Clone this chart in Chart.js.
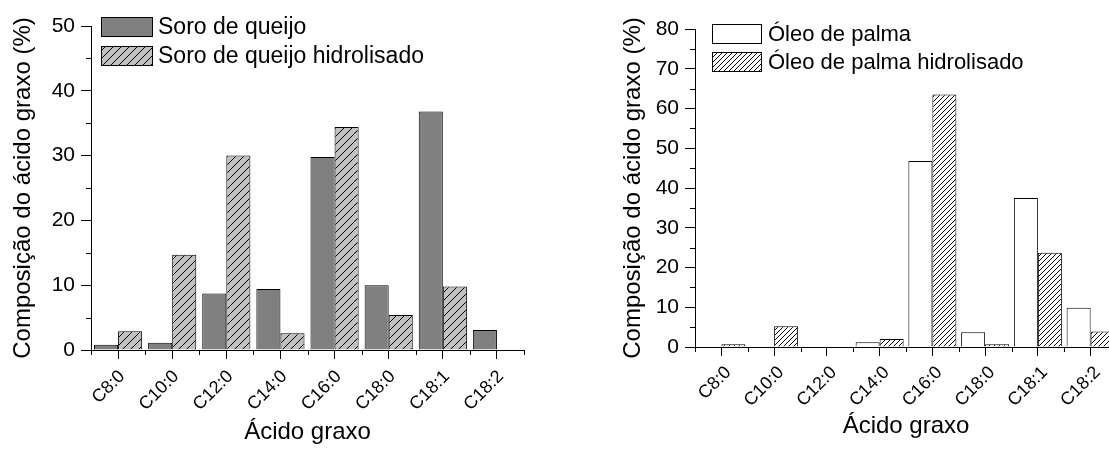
<!DOCTYPE html>
<html>
<head>
<meta charset="utf-8">
<script src="https://cdn.jsdelivr.net/npm/chart.js@4.4.1/dist/chart.umd.min.js"></script>
<style>
  html, body { margin: 0; padding: 0; background: #fff; overflow: hidden; width: 1109px; height: 454px; }
  #wrapLeft { position: absolute; left: 0; top: 0; width: 545px; height: 454px; }
  #wrapRight { position: absolute; left: 600px; top: 0; width: 540px; height: 454px; }
</style>
</head>
<body>
<div id="wrapLeft"><canvas id="chartLeft" width="545" height="454"></canvas></div>
<div id="wrapRight"><canvas id="chartRight" width="540" height="454"></canvas></div>
<script>
// data
const acids = ['C8:0', 'C10:0', 'C12:0', 'C14:0', 'C16:0', 'C18:0', 'C18:1', 'C18:2'];
const soroQueijo = [0.8, 1.1, 8.7, 9.4, 29.8, 10.0, 36.8, 3.1];
const soroQueijoHidro = [2.9, 14.7, 30.0, 2.6, 34.4, 5.4, 9.8, null];
const oleoPalma = [0, 0, 0.2, 1.2, 46.8, 3.7, 37.5, 9.9];
const oleoPalmaHidro = [0.7, 5.2, 0, 2.0, 63.5, 0.7, 23.7, 3.9];
const yMaxLeft = 50;
const yMaxRight = 80;
const yStep = 10;

const FONT = '"Liberation Sans", Arial, sans-serif';

function hatch(bg, s) {
    const c = document.createElement('canvas');
    c.width = s;
    c.height = s;
    const g = c.getContext('2d');
    g.fillStyle = bg;
    g.fillRect(0, 0, s, s);
    g.strokeStyle = '#000';
    g.lineWidth = 1;
    g.beginPath();
    g.moveTo(0, s); g.lineTo(s, 0);
    g.moveTo(-1, 1); g.lineTo(1, -1);
    g.moveTo(s - 1, s + 1); g.lineTo(s + 1, s - 1);
    g.stroke();
    return g.createPattern(c, 'repeat');
}

// short ticks: y at the half steps, x at the category edges
const minorTicks = {
    id: 'minorTicks',
    afterDraw(chart, args, opts) {
        const ctx = chart.ctx;
        const x = chart.scales.x, y = chart.scales.y;
        ctx.save();
        ctx.strokeStyle = '#000';
        ctx.lineWidth = 1;
        ctx.beginPath();
        for (let v = yStep / 2; v < y.max; v += yStep) {
            const py = Math.round(y.getPixelForValue(v)) + 0.5;
            ctx.moveTo(x.left - opts.len, py);
            ctx.lineTo(x.left, py);
        }
        for (let i = 0; i <= acids.length; i++) {
            const px = Math.round(x.getPixelForValue(i - 0.5)) + 0.5;
            ctx.moveTo(px, y.bottom);
            ctx.lineTo(px, y.bottom + opts.len);
        }
        ctx.stroke();
        ctx.restore();
    }
};

// legend boxes as in the original (box + label, stacked)
const boxLegend = {
    id: 'boxLegend',
    afterDraw(chart, args, opts) {
        const ctx = chart.ctx;
        const a = chart.chartArea;
        ctx.save();
        ctx.font = opts.fontSize + 'px ' + FONT;
        ctx.textBaseline = 'middle';
        chart.data.datasets.forEach((ds, i) => {
            const bx = Math.round(a.left + opts.x);
            const by = Math.round(a.top + opts.y + i * opts.rowGap);
            ctx.fillStyle = ds.backgroundColor;
            ctx.fillRect(bx, by, opts.boxW, opts.boxH);
            ctx.strokeStyle = '#000';
            ctx.lineWidth = 1;
            ctx.strokeRect(bx + 0.5, by + 0.5, opts.boxW, opts.boxH);
            ctx.fillStyle = '#000';
            ctx.fillText(ds.label, bx + opts.boxW + opts.gap, by + opts.boxH / 2 + 1);
        });
        ctx.restore();
    }
};

function makeChart(id, datasets, yMax, lay) {
    new Chart(document.getElementById(id), {
        type: 'bar',
        data: { labels: acids, datasets: datasets },
        options: {
            responsive: false,
            animation: false,
            layout: { padding: { top: lay.top, right: lay.right, left: 0, bottom: 0 } },
            datasets: { bar: { barPercentage: 1, categoryPercentage: lay.catPct } },
            plugins: {
                legend: { display: false },
                tooltip: { enabled: false },
                minorTicks: { len: 5 },
                boxLegend: lay.legend
            },
            scales: {
                x: {
                    offset: true,
                    grid: { drawOnChartArea: false, offset: false, tickLength: 9, color: '#000' },
                    border: { display: true, color: '#000', width: 1 },
                    ticks: { color: '#000', font: { size: lay.xTickSize, family: FONT }, minRotation: 45, maxRotation: 45, padding: lay.xTickPad, labelOffset: lay.xTickShift, autoSkip: false },
                    title: { display: true, text: 'Ácido graxo', color: '#000', font: { size: 24, family: FONT }, padding: { top: 0, bottom: lay.xTitlePad } },
                    afterFit: s => { s.height = lay.xHeight; }
                },
                y: {
                    min: 0,
                    max: yMax,
                    grid: { drawOnChartArea: false, tickLength: 10, color: '#000' },
                    border: { display: true, color: '#000', width: 1 },
                    ticks: { stepSize: yStep, color: '#000', font: { size: 21, family: FONT }, padding: 6 },
                    title: { display: true, text: 'Composição do ácido graxo (%)', color: '#000', font: { size: 24, family: FONT }, padding: { top: lay.yTitlePad, bottom: 0 } },
                    afterFit: s => { s.width = lay.yWidth; }
                }
            }
        },
        plugins: [minorTicks, boxLegend]
    });
}

makeChart('chartLeft', [
    { label: 'Soro de queijo', data: soroQueijo, backgroundColor: '#808080', borderColor: '#000', borderWidth: 1 },
    { label: 'Soro de queijo hidrolisado', data: soroQueijoHidro, backgroundColor: hatch('#c0c0c0', 8), borderColor: '#000', borderWidth: 1 }
], yMaxLeft, {
    top: 26, right: 21, yWidth: 91, xHeight: 104, catPct: 0.89,
    xTickSize: 18, xTickPad: 7, xTickShift: 4, xTitlePad: 7, yTitlePad: 9,
    legend: { x: 10, y: -9, boxW: 51, boxH: 19, rowGap: 29, gap: 6, fontSize: 23 }
});

makeChart('chartRight', [
    { label: 'Óleo de palma', data: oleoPalma, backgroundColor: '#ffffff', borderColor: '#000', borderWidth: 1 },
    { label: 'Óleo de palma hidrolisado', data: oleoPalmaHidro, backgroundColor: hatch('#ffffff', 5), borderColor: '#000', borderWidth: 1 }
], yMaxRight, {
    top: 29, right: 23, yWidth: 95, xHeight: 107, catPct: 0.91,
    xTickSize: 18, xTickPad: 6, xTickShift: 7, xTitlePad: 13, yTitlePad: 19,
    legend: { x: 17, y: -5, boxW: 49, boxH: 19, rowGap: 28, gap: 7, fontSize: 22 }
});
</script>
</body>
</html>
